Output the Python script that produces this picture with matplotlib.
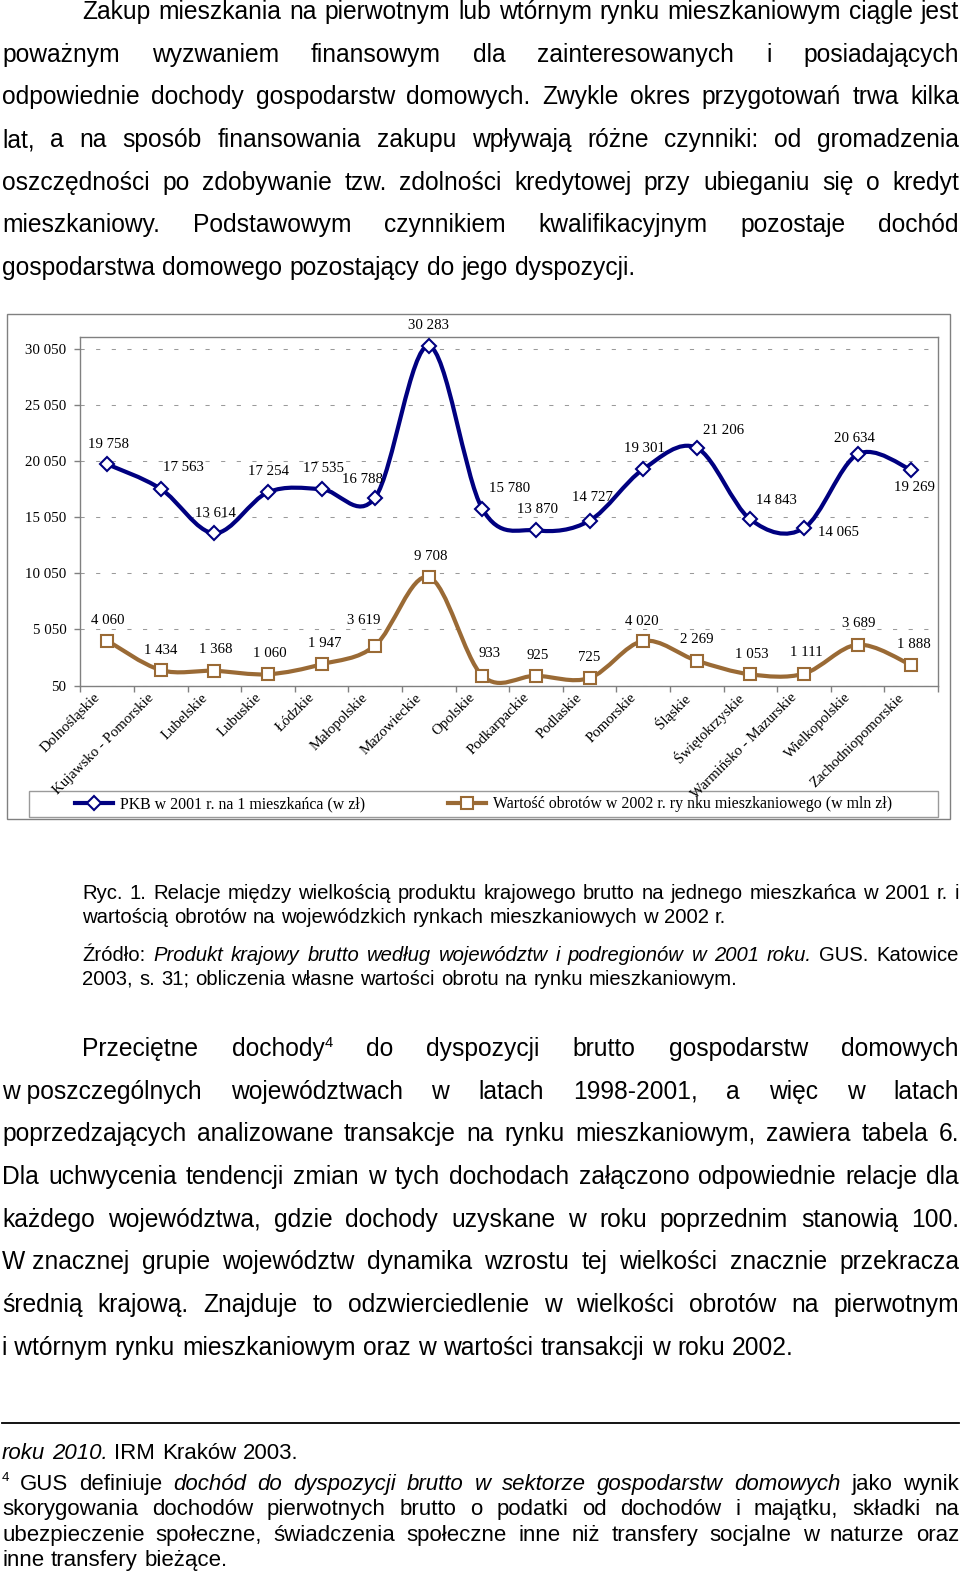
import numpy as np
import matplotlib
matplotlib.use("Agg")
import matplotlib.pyplot as plt
from matplotlib.path import Path
from matplotlib.patches import PathPatch, Rectangle
from matplotlib.lines import Line2D

# chart data
regions = ["Dolnośląskie", "Kujawsko - Pomorskie", "Lubelskie", "Lubuskie", "Łódzkie",
           "Małopolskie", "Mazowieckie", "Opolskie", "Podkarpackie", "Podlaskie",
           "Pomorskie", "Śląskie", "Świętokrzyskie", "Warmińsko - Mazurskie",
           "Wielkopolskie", "Zachodniopomorskie"]
pkb_2001 = [19758, 17563, 13614, 17254, 17535, 16788, 30283, 15780,
            13870, 14727, 19301, 21206, 14843, 14065, 20634, 19269]
obroty_2002 = [4060, 1434, 1368, 1060, 1947, 3619, 9708, 933,
               925, 725, 4020, 2269, 1053, 1111, 3689, 1888]
y_ticks = [50, 5050, 10050, 15050, 20050, 25050, 30050]
series_names = ["PKB w 2001 r. na 1 mieszkańca (w zł)",
                "Wartość obrotów w 2002 r. ry nku mieszkaniowego (w mln zł)"]

# label offsets in pixels (dx, dy down) relative to the marker
pkb_off = [(1, -20), (23, -21), (1, -20), (1, -21), (2, -21), (-13, -18), (0, -20), (27, -20),
           (2, -21), (3, -23), (1, -21), (27, -17), (26, -19), (35, 4), (-3, -16), (3, 18)]
obr_off = [(1, -20), (0, -20), (1, -21), (2, -21), (3, -21), (-11, -25), (2, -21), (7, -22),
           (2, -20), (0, -21), (-1, -20), (0, -21), (1, -20), (2, -21), (1, -21), (3, -20)]

# page text
para1 = [
    "Zakup mieszkania na pierwotnym lub wtórnym rynku mieszkaniowym ciągle jest",
    "poważnym wyzwaniem finansowym dla zainteresowanych i posiadających",
    "odpowiednie dochody gospodarstw domowych. Zwykle okres przygotowań trwa kilka",
    "lat, a na sposób finansowania zakupu wpływają różne czynniki: od gromadzenia",
    "oszczędności po zdobywanie tzw. zdolności kredytowej przy ubieganiu się o kredyt",
    "mieszkaniowy. Podstawowym czynnikiem kwalifikacyjnym pozostaje dochód",
    "gospodarstwa domowego pozostający do jego dyspozycji.",
]
caption = [
    "Ryc. 1. Relacje między wielkością produktu krajowego brutto na jednego mieszkańca w 2001 r. i",
    "wartością obrotów na wojewódzkich rynkach mieszkaniowych w 2002 r.",
    "Źródło: _Produkt krajowy brutto według województw i podregionów w 2001 roku._ GUS. Katowice",
    "2003, s. 31; obliczenia własne wartości obrotu na rynku mieszkaniowym.",
]
para2 = [
    "Przeciętne dochody^4 do dyspozycji brutto gospodarstw domowych",
    "w~poszczególnych województwach w latach 1998-2001, a więc w latach",
    "poprzedzających analizowane transakcje na rynku mieszkaniowym, zawiera tabela 6.",
    "Dla uchwycenia tendencji zmian w tych dochodach załączono odpowiednie relacje dla",
    "każdego województwa, gdzie dochody uzyskane w roku poprzednim stanowią 100.",
    "W~znacznej grupie województw dynamika wzrostu tej wielkości znacznie przekracza",
    "średnią krajową. Znajduje to odzwierciedlenie w wielkości obrotów na pierwotnym",
    "i~wtórnym rynku mieszkaniowym oraz w wartości transakcji w roku 2002.",
]
footnotes = [
    "_roku 2010._ IRM Kraków 2003.",
    "^4 GUS definiuje _dochód do dyspozycji brutto w sektorze gospodarstw domowych_ jako wynik",
    "skorygowania dochodów pierwotnych brutto o podatki od dochodów i majątku, składki na",
    "ubezpieczenie społeczne, świadczenia społeczne inne niż transfery socjalne w naturze oraz",
    "inne transfery bieżące.",
]

W, H, DPI = 960, 1574, 100
# layout coordinates below are read on a 956 x 1568 page
PW, PH = 956, 1568
KX = PW / W
NAVY = "#000080"
BROWN = "#9a6a35"
SANS = "Liberation Sans"
SERIF = "Liberation Serif"


def smooth_path(xs, ys):
    # Excel-like smoothed line as cubic bezier segments
    pts = np.column_stack([xs, ys]).astype(float)
    n = len(pts)
    verts = [pts[0]]
    codes = [Path.MOVETO]
    for i in range(n - 1):
        p0 = pts[max(i - 1, 0)]
        p1 = pts[i]
        p2 = pts[i + 1]
        p3 = pts[min(i + 2, n - 1)]
        verts += [p1 + (p2 - p0) / 6, p2 - (p3 - p1) / 6, p2]
        codes += [Path.CURVE4] * 3
    return Path(verts, codes)


def parse(line):
    words = []
    italic = False
    for raw in line.split(" "):
        pieces = []
        buf = ""
        i = 0
        while i < len(raw):
            ch = raw[i]
            if ch == "_":
                if buf:
                    pieces.append((buf, italic, False))
                    buf = ""
                italic = not italic
            elif ch == "^":
                if buf:
                    pieces.append((buf, italic, False))
                    buf = ""
                pieces.append((raw[i + 1], False, True))
                i += 1
            elif ch == "~":
                buf += " "
            else:
                buf += ch
            i += 1
        if buf:
            pieces.append((buf, italic, False))
        words.append(pieces)
    return words


def draw_line(page, renderer, line, x0, x1, y, size, justify):
    words = parse(line)
    px = DPI / 72.0

    def piece_w(p):
        txt, it, sup = p
        s = size * 0.6 if sup else size
        t = page.text(0, 0, txt, fontsize=s, family=SANS, style="italic" if it else "normal")
        w = t.get_window_extent(renderer).width
        t.remove()
        return w * KX

    widths = [[piece_w(p) for p in w] for w in words]
    total = sum(sum(ws) for ws in widths)
    if justify and len(words) > 1:
        gap = (x1 - x0 - total) / (len(words) - 1)
    else:
        gap = 0.3 * size * px * KX
    x = x0
    for pieces, ws in zip(words, widths):
        for (txt, it, sup), w in zip(pieces, ws):
            s = size * 0.6 if sup else size
            yy = y - 0.38 * size * px if sup else y
            page.text(x, yy, txt, fontsize=s, family=SANS,
                      style="italic" if it else "normal", va="baseline", ha="left")
            x += w
        x += gap


def draw_block(page, renderer, lines, baselines, size, x_first, x_rest, x1, last_left):
    for k, (line, y) in enumerate(zip(lines, baselines)):
        x0 = x_first if k == 0 else x_rest
        justify = not (k in last_left)
        draw_line(page, renderer, line, x0, x1, y, size, justify)


def fmt(v):
    return f"{v:,}".replace(",", " ")


def main():
    fig = plt.figure(figsize=(W / DPI, H / DPI), dpi=DPI)
    renderer = fig.canvas.get_renderer()

    page = fig.add_axes([0, 0, 1, 1], zorder=0)
    page.set_xlim(0, PW)
    page.set_ylim(PH, 0)
    page.axis("off")

    # text blocks
    draw_block(page, renderer, para1, [19 + 42.5 * k for k in range(7)], 17.75, 82, 2, 955, {6})
    draw_block(page, renderer, caption[:2], [896, 919], 14.55, 82, 82, 955, {1})
    draw_block(page, renderer, caption[2:], [957, 981], 14.55, 82, 82, 955, {1})
    draw_block(page, renderer, para2, [1052 + 42.5 * k for k in range(8)], 17.75, 82, 2, 955, {7})
    draw_block(page, renderer, footnotes, [1453, 1484, 1509.5, 1535, 1560], 16.05, 2, 2, 955, {0, 4})
    page.plot([2, 955], [1418, 1418], color="black", lw=1.3)

    # chart frames
    page.add_patch(Rectangle((7, 313), 939, 503, facecolor="white", edgecolor="#808080", lw=1))
    page.add_patch(Rectangle((29, 788), 905, 26, facecolor="none", edgecolor="#9a9a9a", lw=1))

    ax = fig.add_axes([80 / PW, 1 - 683 / PH, 854 / PW, 347 / PH], zorder=1)
    ax.set_facecolor("none")
    ax.set_xlim(0, 16)
    ax.set_ylim(50, 31050)
    x = np.arange(len(regions)) + 0.5

    ax.set_yticks(y_ticks)
    ax.set_yticklabels([fmt(v) for v in y_ticks], family=SERIF, fontsize=10.7)
    ax.set_xticks(np.arange(17))
    ax.set_xticklabels([])
    ax.tick_params(axis="both", direction="out", length=4, color="#808080", width=1)
    ax.tick_params(axis="y", pad=6)
    ax.yaxis.grid(True, linestyle=(0, (4, 11)), color="#9a9a9a", lw=0.75)
    ax.set_axisbelow(True)
    for s in ax.spines.values():
        s.set_color("#808080")
        s.set_linewidth(1)

    ax.add_patch(PathPatch(smooth_path(x, pkb_2001), fill=False, edgecolor=NAVY, lw=3,
                           capstyle="round", joinstyle="round", zorder=3))
    ax.add_patch(PathPatch(smooth_path(x, obroty_2002), fill=False, edgecolor=BROWN, lw=3,
                           capstyle="round", joinstyle="round", zorder=3))
    ax.plot(x, pkb_2001, ls="none", marker="D", ms=7.5, mfc="white", mec=NAVY, mew=1.5, zorder=4)
    ax.plot(x, obroty_2002, ls="none", marker="s", ms=8, mfc="white", mec=BROWN, mew=1.5, zorder=4)

    for xi, v, (dx, dy) in zip(x, pkb_2001, pkb_off):
        ax.annotate(fmt(v), (xi, v), xytext=(dx, -dy), textcoords="offset pixels",
                    ha="center", va="center", family=SERIF, fontsize=10.7)
    for xi, v, (dx, dy) in zip(x, obroty_2002, obr_off):
        ax.annotate(fmt(v), (xi, v), xytext=(dx, -dy), textcoords="offset pixels",
                    ha="center", va="center", family=SERIF, fontsize=10.7)

    for xi, name in zip(x, regions):
        ax.annotate(name, (xi, 0), xycoords=("data", "axes fraction"), xytext=(-9, -10),
                    textcoords="offset pixels", rotation=45, rotation_mode="anchor",
                    ha="right", va="center", family=SERIF, fontsize=10.7, annotation_clip=False)

    handles = [
        Line2D([], [], color=NAVY, lw=3, marker="D", ms=7.5, mfc="white", mec=NAVY, mew=1.5),
        Line2D([], [], color=BROWN, lw=3, marker="s", ms=8, mfc="white", mec=BROWN, mew=1.5),
    ]
    fig.legend(handles, series_names, loc="center", ncol=2, mode="expand",
               bbox_to_anchor=(75 / PW, 1 - 814 / PH, 813 / PW, 26 / PH), frameon=False,
               prop={"family": SERIF, "size": 11.4}, handlelength=2.4, handletextpad=0.4,
               borderpad=0, borderaxespad=0)

    fig.savefig("out.png", dpi=DPI)


if __name__ == "__main__":
    main()
